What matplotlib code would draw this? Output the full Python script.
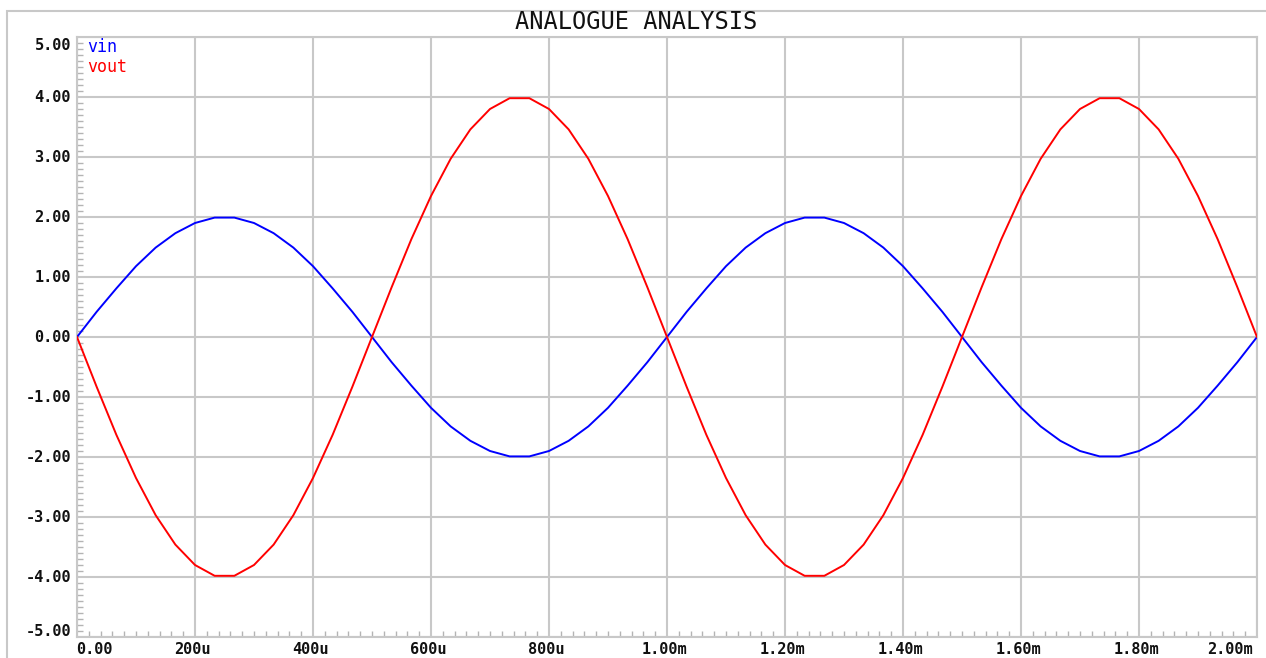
import matplotlib
matplotlib.use("Agg")
import matplotlib.pyplot as plt
from matplotlib.ticker import MultipleLocator, FixedLocator
from matplotlib.patches import Rectangle

# ---- data (time in microseconds, voltages in volts) ----
time_us = [0, 33.3, 66.7, 100, 133.3, 166.7, 200, 233.3, 266.7, 300,
           333.3, 366.7, 400, 433.3, 466.7, 500, 533.3, 566.7, 600, 633.3,
           666.7, 700, 733.3, 766.7, 800, 833.3, 866.7, 900, 933.3, 966.7,
           1000, 1033.3, 1066.7, 1100, 1133.3, 1166.7, 1200, 1233.3, 1266.7, 1300,
           1333.3, 1366.7, 1400, 1433.3, 1466.7, 1500, 1533.3, 1566.7, 1600, 1633.3,
           1666.7, 1700, 1733.3, 1766.7, 1800, 1833.3, 1866.7, 1900, 1933.3, 1966.7,
           2000]
vin = [0.00, 0.42, 0.81, 1.18, 1.49, 1.73, 1.90, 1.99, 1.99, 1.90,
       1.73, 1.49, 1.18, 0.81, 0.42, 0.00, -0.42, -0.81, -1.18, -1.49,
       -1.73, -1.90, -1.99, -1.99, -1.90, -1.73, -1.49, -1.18, -0.81, -0.42,
       0.00, 0.42, 0.81, 1.18, 1.49, 1.73, 1.90, 1.99, 1.99, 1.90,
       1.73, 1.49, 1.18, 0.81, 0.42, 0.00, -0.42, -0.81, -1.18, -1.49,
       -1.73, -1.90, -1.99, -1.99, -1.90, -1.73, -1.49, -1.18, -0.81, -0.42,
       0.00]
vout = [0.00, -0.83, -1.63, -2.35, -2.97, -3.46, -3.80, -3.98, -3.98, -3.80,
        -3.46, -2.97, -2.35, -1.63, -0.83, 0.00, 0.83, 1.63, 2.35, 2.97,
        3.46, 3.80, 3.98, 3.98, 3.80, 3.46, 2.97, 2.35, 1.63, 0.83,
        0.00, -0.83, -1.63, -2.35, -2.97, -3.46, -3.80, -3.98, -3.98, -3.80,
        -3.46, -2.97, -2.35, -1.63, -0.83, 0.00, 0.83, 1.63, 2.35, 2.97,
        3.46, 3.80, 3.98, 3.98, 3.80, 3.46, 2.97, 2.35, 1.63, 0.83,
        0.00]
x_ticks = [0, 200, 400, 600, 800, 1000, 1200, 1400, 1600, 1800, 2000]
x_labels = ["0.00", "200u", "400u", "600u", "800u", "1.00m", "1.20m",
            "1.40m", "1.60m", "1.80m", "2.00m"]
y_ticks = [5, 4, 3, 2, 1, 0, -1, -2, -3, -4, -5]
y_labels = ["5.00", "4.00", "3.00", "2.00", "1.00", "0.00",
            "-1.00", "-2.00", "-3.00", "-4.00", "-5.00"]
title = "ANALOGUE ANALYSIS"
series_names = ["vin", "vout"]

W, H = 1266, 658
fig = plt.figure(figsize=(W / 100, H / 100), dpi=100)
mono = "DejaVu Sans Mono"
grid_c = "#c8c8c8"

# outer frame (extends past right/bottom edges)
fig.patches.append(Rectangle((7 / W, -0.05), 1.1, 1.05 - 11 / H,
                             transform=fig.transFigure, fill=False,
                             edgecolor=grid_c, lw=1.5))

L, R, T, B = 77, 1257, 37, 637
ax = fig.add_axes([L / W, 1 - B / H, (R - L) / W, (B - T) / H])
ax.set_xlim(0, 2000)
ax.set_ylim(-5, 5)

ax.plot(time_us, vin, color="#0000ff", lw=1.4, zorder=3)
ax.plot(time_us, vout, color="#ff0000", lw=1.4, zorder=3)

ax.xaxis.set_major_locator(FixedLocator(x_ticks))
ax.yaxis.set_major_locator(FixedLocator(y_ticks))
ax.xaxis.set_minor_locator(MultipleLocator(20))
ax.yaxis.set_minor_locator(MultipleLocator(0.1))
ax.grid(True, which="major", color=grid_c, lw=1.5, zorder=1)
ax.tick_params(which="major", length=0, labelleft=False, labelbottom=False)
ax.tick_params(which="minor", direction="in", length=4, color="#b4b4b4", width=1)
for s in ax.spines.values():
    s.set_color(grid_c)
    s.set_linewidth(1.5)

# tick labels
for v, lab in zip(y_ticks, y_labels):
    yp = 1 - (T + (5 - v) / 10 * (B - T)) / H
    if v == 5:
        yp -= 9 / H
    elif v == -5:
        yp += 6 / H
    fig.text(71 / W, yp, lab, ha="right", va="center", family=mono,
             fontsize=11, fontweight="bold", color="#111111")
for v, lab in zip(x_ticks, x_labels):
    xp = (L + v / 2000 * (R - L)) / W
    if v == 0:
        fig.text(76 / W, 1 - 650 / H, lab, ha="left", va="center",
                 family=mono, fontsize=11, fontweight="bold", color="#111111")
    elif v == 2000:
        fig.text(1253 / W, 1 - 650 / H, lab, ha="right", va="center",
                 family=mono, fontsize=11, fontweight="bold", color="#111111")
    else:
        fig.text(xp - 3 / W, 1 - 650 / H, lab, ha="center", va="center",
                 family=mono, fontsize=11, fontweight="bold", color="#111111")

# legend
fig.text(87 / W, 1 - 47 / H, series_names[0], ha="left", va="center",
         family=mono, fontsize=12, color="#0000ff")
fig.text(87 / W, 1 - 67 / H, series_names[1], ha="left", va="center",
         family=mono, fontsize=12, color="#ff0000")

# title
fig.text(636 / W, 1 - 22 / H, title, ha="center", va="center", family=mono,
         fontsize=17, color="#111111")

fig.savefig("out.png", dpi=100)
